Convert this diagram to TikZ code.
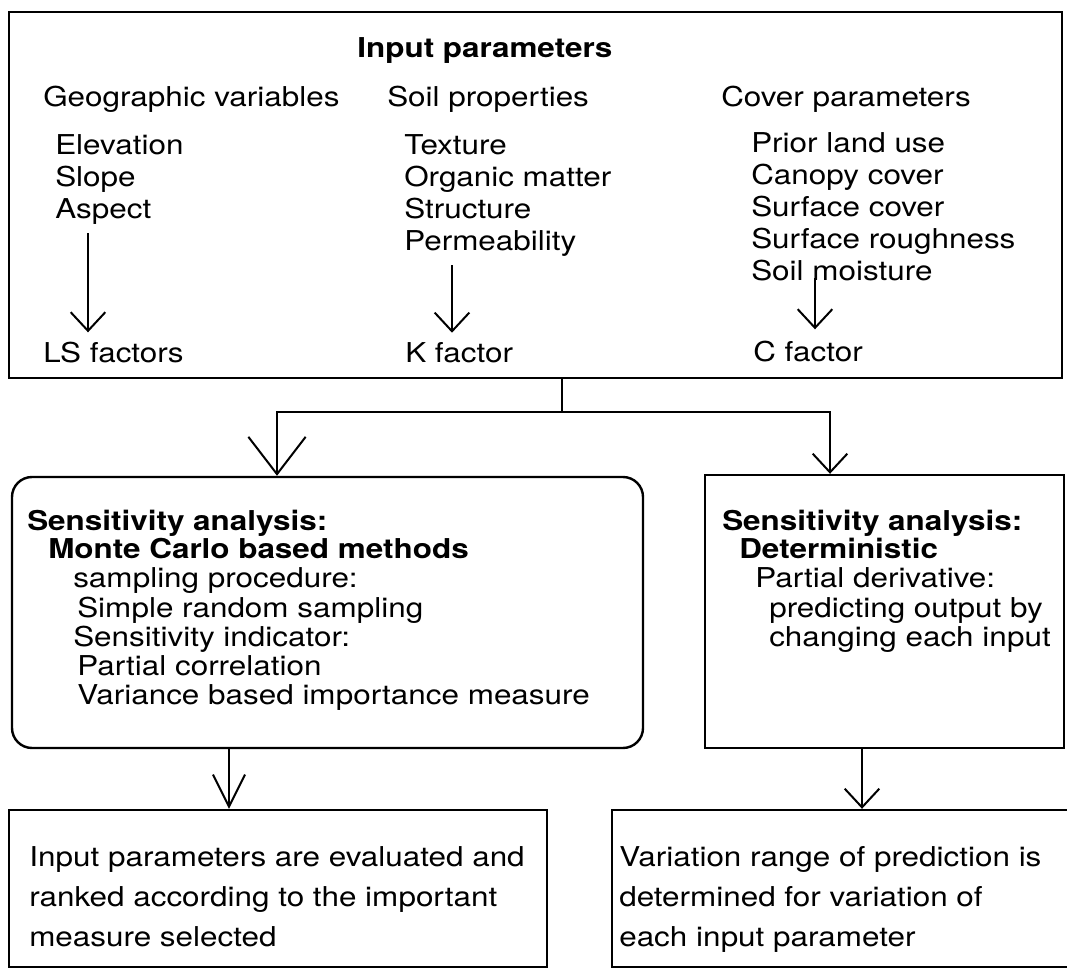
\documentclass[tikz,border=0pt]{standalone}
\usepackage{fontspec}
\setmainfont{TeX Gyre Heros}[FakeStretch=1.15]
\usetikzlibrary{arrows.meta,positioning,fit}

\begin{document}
\begin{tikzpicture}[x=0.75pt,y=-0.75pt,
    txt/.style={inner sep=0pt, anchor=base west, font=\fontsize{20.5}{24}\selectfont},
    bold/.style={txt, font=\fontsize{20.5}{24}\selectfont\bfseries},
    frame/.style={draw, line width=1.8pt, inner sep=0pt},
    arr/.style={line width=1.5pt, -{Straight Barb[length=14pt,width=26pt]}}]
    \useasboundingbox (0,0) rectangle (1067,969);
    % input parameters
    \node[frame, line width=2.2pt, fit={(9,12) (1062,378)}] (inbox) {};
    \node[bold] (intitle) at (357,58) {Input parameters};
    \node[txt] (geo) at (43,107) {Geographic variables};
    \node[txt] (soil) at (387,107) {Soil properties};
    \node[txt] (cover) at (721,107) {Cover parameters};
    \node[txt] (elev) at (55,155) {Elevation};
    \node[txt] (slope) at (55,187) {Slope};
    \node[txt] (aspect) at (55,219) {Aspect};
    \node[txt] (texture) at (404,155) {Texture};
    \node[txt] (organic) at (404,187) {Organic matter};
    \node[txt] (struct) at (404,219) {Structure};
    \node[txt] (perm) at (404,251) {Permeability};
    \node[txt] (prior) at (751,153) {Prior land use};
    \node[txt] (canopy) at (751,185) {Canopy cover};
    \node[txt] (surfc) at (751,217) {Surface cover};
    \node[txt] (rough) at (751,249) {Surface roughness};
    \node[txt] (moist) at (751,281) {Soil moisture};
    \node[txt] (lsf) at (43,363) {LS factors};
    \node[txt] (kf) at (405,363) {K factor};
    \node[txt] (cf) at (753,362) {C factor};
    \coordinate (lsx) at (88,0);
    \coordinate (kx) at (452,0);
    \coordinate (cx) at (815,0);
    \draw[arr, shorten <=6pt, shorten >=7.5pt] (aspect.south -| lsx) -- (lsf.north -| lsx);
    \draw[arr, shorten <=6pt, shorten >=7.5pt] (perm.south -| kx) -- (kf.north -| kx);
    \draw[arr, shorten <=-3pt, shorten >=9pt] (moist.south -| cx) -- (cf.north -| cx);
    % sensitivity analysis
    \node[frame, rounded corners=15pt, fit={(12,477) (643,748)}] (mc) {};
    \node[frame, fit={(705,475) (1064,748)}] (det) {};
    \coordinate (split) at (562,412);
    \coordinate (lturn) at (277,412);
    \coordinate (rturn) at (830,412);
    \draw[line width=1.5pt] (inbox.south -| split) -- (split);
    \draw[arr, -{Straight Barb[length=28pt,width=43pt]}] (split) -- (lturn) -- (lturn |- mc.north);
    \draw[arr] (split) -- (rturn) -- (rturn |- det.north);
    \node[bold] (mc1) at (27,531) {Sensitivity analysis:};
    \node[bold] (mc2) at (48,558) {Monte Carlo based methods};
    \node[txt] (mc3) at (73,587) {sampling procedure:};
    \node[txt] (mc4) at (77,617) {Simple random sampling};
    \node[txt] (mc5) at (73,646) {Sensitivity indicator:};
    \node[txt] (mc6) at (77,675) {Partial correlation};
    \node[txt] (mc7) at (77,704) {Variance based importance measure};
    \node[bold] (det1) at (722,531) {Sensitivity analysis:};
    \node[bold] (det2) at (739,558) {Deterministic};
    \node[txt] (det3) at (755,587) {Partial derivative:};
    \node[txt] (det4) at (769,617) {predicting output by};
    \node[txt] (det5) at (769,646) {changing each input};
    % results
    \node[frame, fit={(9,810) (547,967)}] (evbox) {};
    \node[frame, fit={(612,810) (1090,967)}] (varbox) {};
    \coordinate (mcx) at (229,0);
    \coordinate (detx) at (862,0);
    \draw[arr, -{Straight Barb[length=24pt,width=24pt]}] (mc.south -| mcx) -- (evbox.north -| mcx);
    \draw[arr] (det.south -| detx) -- (varbox.north -| detx);
    \node[txt] (ev1) at (29,866) {Input parameters are evaluated and};
    \node[txt] (ev2) at (29,906) {ranked according to the important};
    \node[txt] (ev3) at (29,946) {measure selected};
    \node[txt] (var1) at (619,866) {Variation range of prediction is};
    \node[txt] (var2) at (619,906) {determined for variation of};
    \node[txt] (var3) at (619,946) {each input parameter};
\end{tikzpicture}
\end{document}
